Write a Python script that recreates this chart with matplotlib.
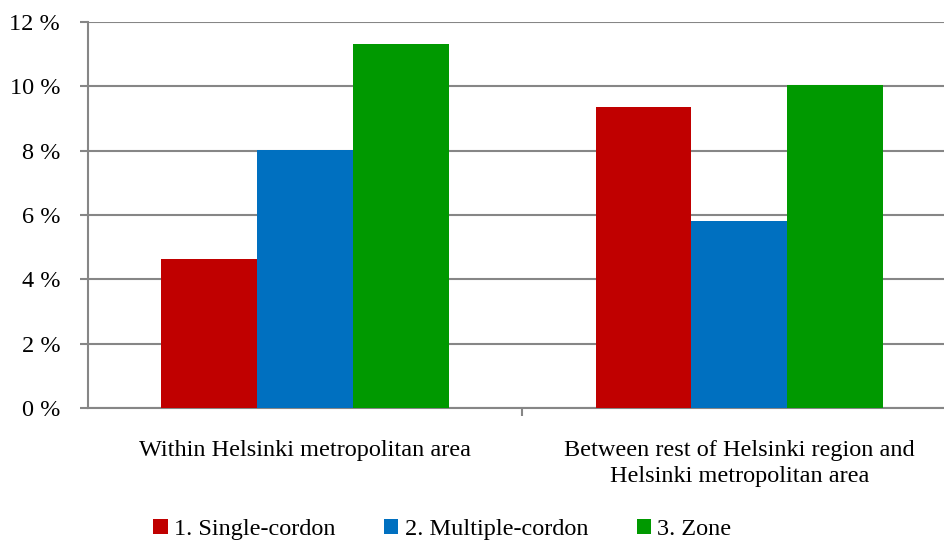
import matplotlib
matplotlib.use("Agg")
import matplotlib.pyplot as plt
import numpy as np

categories = ["Within Helsinki metropolitan area",
              "Between rest of Helsinki region and\nHelsinki metropolitan area"]
series_names = ["1. Single-cordon", "2. Multiple-cordon", "3. Zone"]
single_cordon = [4.63, 9.36]
multiple_cordon = [8.02, 5.81]
zone = [11.31, 10.04]
y_ticks = [0, 2, 4, 6, 8, 10, 12]

colors = ["#C00000", "#0070C0", "#009900"]
grid_col = "#868686"
fs = 17.5

plt.rcParams['font.family'] = ['Liberation Serif', 'DejaVu Serif']

fig = plt.figure(figsize=(9.45, 5.42), dpi=100)
ax = fig.add_axes([88/945, (542-408)/542, (956.5-88)/945, 386/542])

x = np.arange(len(categories))
bw = 96/435
for i, (vals, c, name) in enumerate(zip([single_cordon, multiple_cordon, zone], colors, series_names)):
    ax.bar(x + (i-1)*bw, vals, width=bw, color=c, label=name, zorder=3)

ax.set_xlim(-0.5, len(categories)-0.5)
ax.set_ylim(0, 12)
ax.set_yticks(y_ticks)
ax.set_yticklabels([f"{v} %" for v in y_ticks], fontsize=fs)
ax.yaxis.grid(True, color=grid_col, linewidth=1.5, zorder=0)
ax.set_axisbelow(True)

ax.set_xticks([0.5])
ax.set_xticklabels([""])
ax.tick_params(axis='x', length=6, width=1.5, color=grid_col, direction='out')
ax.tick_params(axis='y', length=6, width=1.5, color=grid_col, direction='out', pad=14)
for i, cat in enumerate(categories):
    ax.text(i, -0.98, cat, ha='center', va='top', fontsize=fs,
            transform=ax.transData, linespacing=1.35)

for s in ['top', 'right']:
    ax.spines[s].set_visible(False)
for s in ['left', 'bottom']:
    ax.spines[s].set_color(grid_col)
    ax.spines[s].set_linewidth(1.5)

fig.legend(loc='lower center', bbox_to_anchor=(0.468, -0.037), ncol=3, frameon=False,
           fontsize=fs, handlelength=0.6, handleheight=0.6, handletextpad=0.25,
           columnspacing=2.0)

fig.savefig("out.png", dpi=100)
